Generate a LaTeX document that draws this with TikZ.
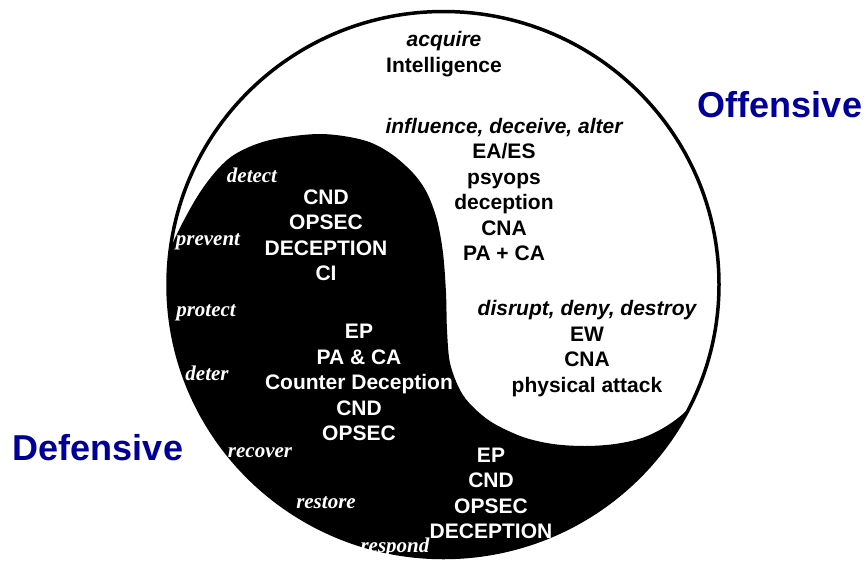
\documentclass[tikz,border=0pt]{standalone}
\usepackage{fontspec}
\setmainfont{Liberation Sans}
\newfontfamily\timesfam{Liberation Serif}
\definecolor{labelblue}{RGB}{0,0,153}
\begin{document}
\begin{tikzpicture}[x=1pt,y=-1pt,
  every node/.style={inner sep=0pt, outer sep=0pt},
  sideword/.style={font=\fontsize{36}{40}\selectfont\bfseries, text=labelblue, anchor=base},
  darklist/.style={align=center, font=\fontsize{21}{25.5}\selectfont\bfseries, text=black},
  lightlist/.style={align=center, font=\fontsize{21}{25.5}\selectfont\bfseries, text=white},
  verb/.style={font=\fontsize{21}{25}\selectfont\timesfam\bfseries\itshape, text=white, anchor=base},
  rim/.style={draw=black, line width=3.5pt}
]
\useasboundingbox (0,0) rectangle (868,563);

% the dark (defensive) half, bounded by the S-shaped divide
\begin{scope}
  \clip (443.5,284.5) ellipse [x radius=275.5, y radius=273];
  \fill[black] plot[smooth, tension=0.55] coordinates {
      (160,275) (176,236) (197,197) (217,170) (237,153) (270,140) (320,134)
      (363,140) (390,153) (413,173) (427,193) (437,220) (443,253) (446,293)
      (447,330) (450,363) (460,390) (473,407) (493,423) (523,437) (553,444)
      (585,446) (615,444) (642,438) (665,427) (685,412) (701,392) (712,368)
      (720,340)}
    -- (780,330) -- (780,600) -- (100,600) -- (100,290) -- cycle;
\end{scope}

% outer rim
\draw[rim] (443.5,284.5) ellipse [x radius=275.5, y radius=273];

% side captions
\node[sideword] (off) at (780,117) {Offensive};
\node[sideword] (def) at (98,460) {Defensive};

% offensive (light) side
\node[darklist] (acq) at (444,54) {\itshape acquire\\Intelligence};
\node[darklist] (infl) at (504,189.6) {\itshape influence, deceive, alter\\EA/ES\\psyops\\deception\\CNA\\PA + CA};
\node[darklist] (disr) at (587,348.5) {\itshape disrupt, deny, destroy\\EW\\CNA\\physical attack};

% defensive (dark) side
\node[lightlist] (prot) at (326,235.3) {CND\\OPSEC\\DECEPTION\\CI};
\node[lightlist] (cdec) at (359,382.6) {EP\\PA \& CA\\Counter Deception\\CND\\OPSEC};
\node[lightlist] (resp) at (491,493.6) {EP\\CND\\OPSEC\\DECEPTION};

% defensive verbs along the rim
\node[verb] (v1) at (252,182) {detect};
\node[verb] (v2) at (208,245) {prevent};
\node[verb] (v3) at (206,316) {protect};
\node[verb] (v4) at (207,380) {deter};
\node[verb] (v5) at (260,457) {recover};
\node[verb] (v6) at (326,508) {restore};
\node[verb] (v7) at (395,552) {respond};
\end{tikzpicture}
\end{document}
